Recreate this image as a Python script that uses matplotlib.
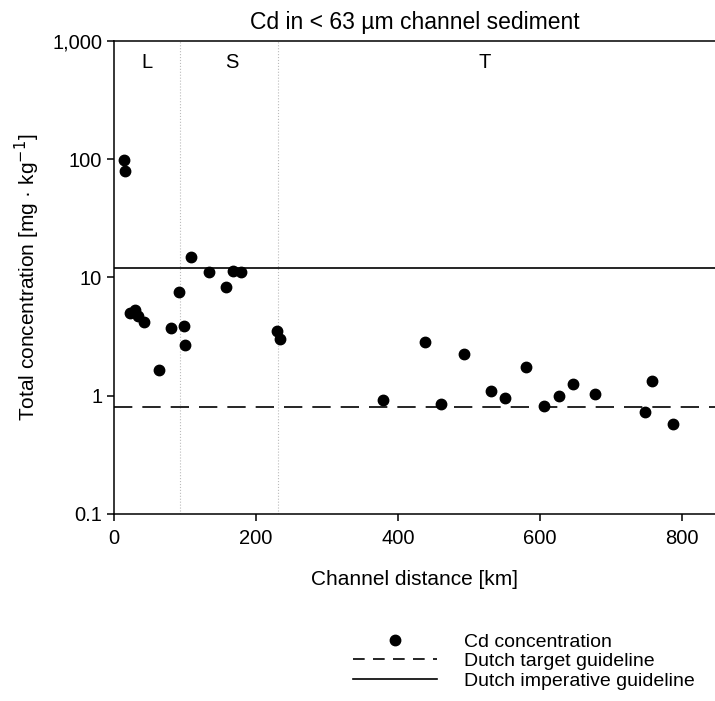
import numpy as np
from matplotlib import pyplot as plt
from matplotlib.lines import Line2D

plt.rcParams['font.family'] = ['Liberation Sans', 'DejaVu Sans']

# Cd concentration in channel sediment
distanceKm = [14, 15.5, 22.5, 29.6, 34, 42, 64, 80, 92, 98.6, 100.4, 109, 134, 158, 168, 179,
              229, 233, 378, 438.5, 461, 492, 530, 550, 580, 606, 626, 646, 677, 747, 758, 787]
cdConcentration = [98, 80, 5.0, 5.3, 4.7, 4.2, 1.66, 3.7, 7.5, 3.85, 2.7, 15, 11, 8.3, 11.4, 11.1,
                   3.5, 3.0, 0.92, 2.86, 0.85, 2.25, 1.09, 0.96, 1.74, 0.81, 1.0, 1.25, 1.03, 0.72, 1.33, 0.575]

targetGuideline = 0.8
imperativeGuideline = 12

sectionBounds = [93, 231]
sectionNames = ['L', 'S', 'T']
sectionLabelX = [46, 166, 522]

yTicks = [0.1, 1, 10, 100, 1000]
yTickLabels = ['0.1', '1', '10', '100', '1,000']
xTicks = [0, 200, 400, 600, 800]


fig = plt.figure(figsize=(7.15, 7.01), dpi=100)
ax = fig.add_axes([0.1594, 0.2672, 0.8406, 0.6743])

for bound in sectionBounds:
    ax.axvline(bound, color='#bbbbbb', linestyle=':', linewidth=0.8, zorder=1)

ax.axhline(targetGuideline, color='black', linewidth=1.2, linestyle=(0, (11, 6)), zorder=2)
ax.axhline(imperativeGuideline, color='black', linewidth=1.2, zorder=2)
ax.plot(distanceKm, cdConcentration, 'o', color='black', markersize=7.5, zorder=3)

for name, xPos in zip(sectionNames, sectionLabelX):
    ax.text(xPos, 660, name, ha='center', va='center', fontsize=14.5)

ax.set_yscale('log')
ax.set_ylim(0.1, 1000)
ax.set_xlim(0, 846)
ax.set_yticks(yTicks)
ax.set_yticklabels(yTickLabels)
ax.minorticks_off()
ax.set_xticks(xTicks)
ax.tick_params(labelsize=14.5, width=1.1, length=5)
ax.tick_params(axis='x', pad=6)

ax.spines['right'].set_visible(False)
for side in ['left', 'top', 'bottom']:
    ax.spines[side].set_linewidth(1.1)

ax.set_title('Cd in < 63 \u00b5m channel sediment', fontsize=16.5, pad=9)
ax.set_xlabel('Channel distance [km]', fontsize=15, labelpad=16)
ax.set_ylabel('Total concentration [mg \u00b7 kg$^{-1}$]', fontsize=15, labelpad=7)

handles = [
    Line2D([], [], marker='o', linestyle='none', color='black', markersize=7.5),
    Line2D([], [], color='black', linewidth=1.2, linestyle=(0, (7, 5))),
    Line2D([], [], color='black', linewidth=1.2),
]
labels = ['Cd concentration', 'Dutch target guideline', 'Dutch imperative guideline']
fig.legend(handles, labels, loc='upper left', bbox_to_anchor=(353 / 715, 1 - 633 / 701),
           frameon=False, fontsize=14, handlelength=4.3, handletextpad=1.4,
           labelspacing=0.1, borderpad=0, borderaxespad=0)

plt.savefig('out.png', dpi=100)
plt.close()
